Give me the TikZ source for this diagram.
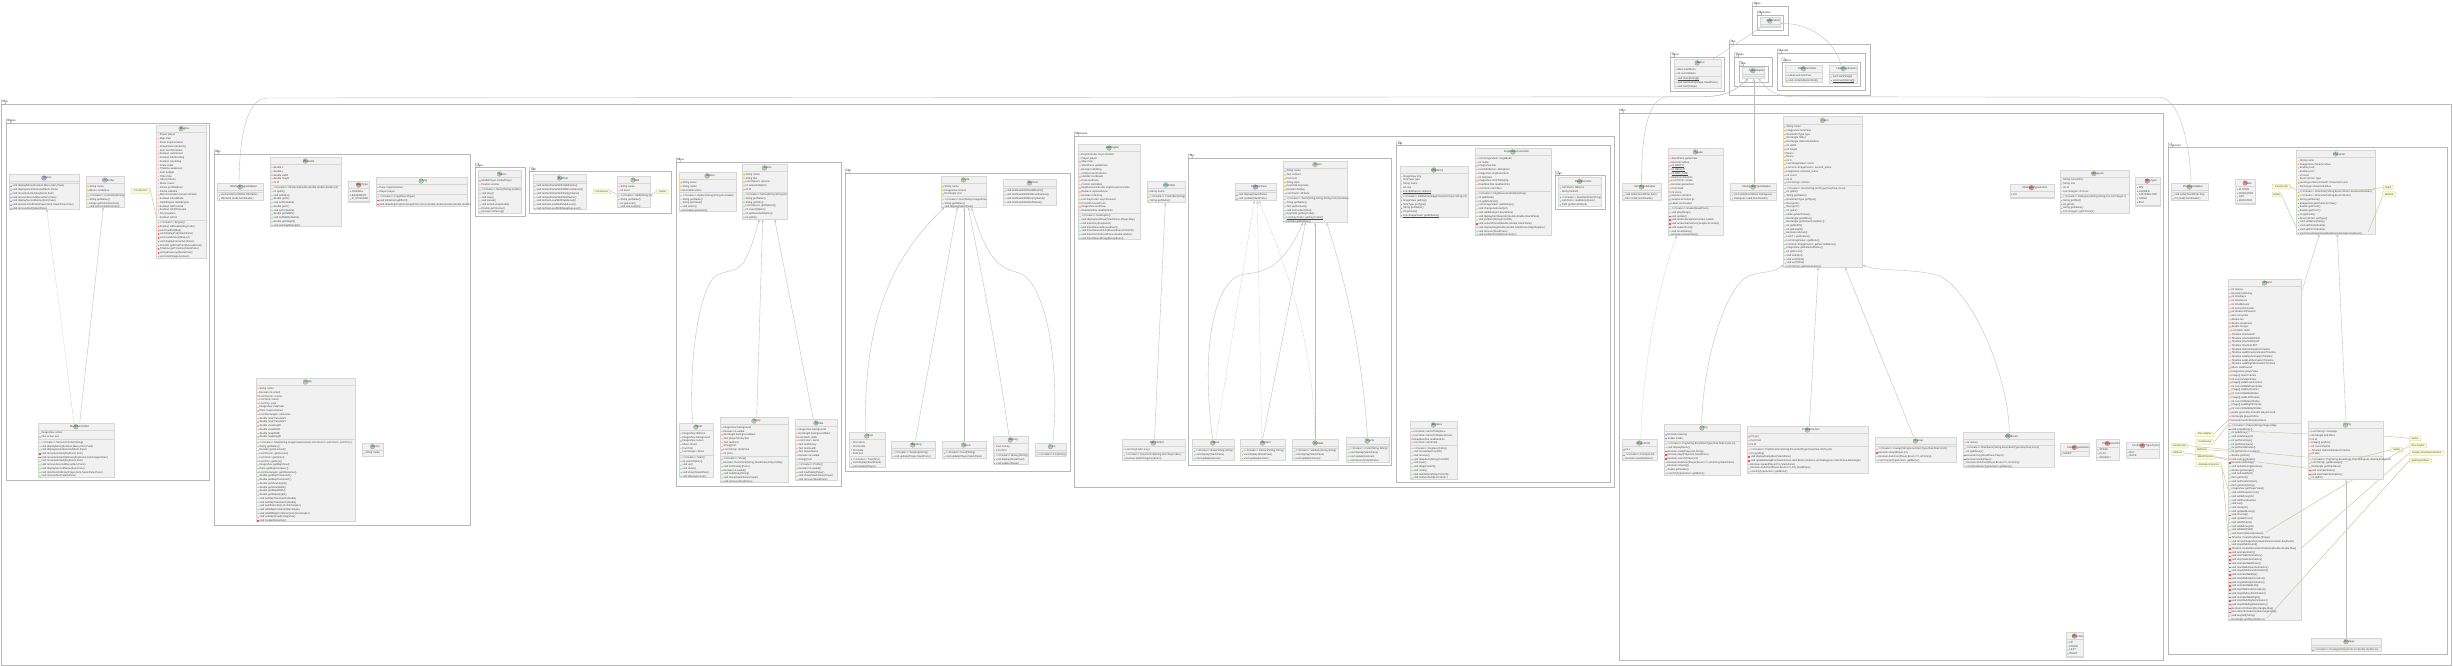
\documentclass[tikz,border=0pt]{standalone}
\usepackage{fontspec}
\usetikzlibrary{arrows.meta}
\newfontfamily\umlfont{Liberation Sans}
\pgfdeclarelayer{frames}\pgfdeclarelayer{edges}
\pgfsetlayers{frames,edges,main}
\definecolor{kindC}{HTML}{ADD1B2}\definecolor{kindA}{HTML}{A9DCDF}
\definecolor{kindI}{HTML}{B4A7E5}\definecolor{kindE}{HTML}{EB937F}
\definecolor{boxfill}{HTML}{F1F1F1}\definecolor{boxline}{HTML}{D6D6D6}
\definecolor{frameline}{HTML}{B8B8B8}\definecolor{edgeline}{HTML}{BEBEBE}
\definecolor{notefill}{HTML}{FBFBD0}\definecolor{noteline}{HTML}{C8C8A8}
\definecolor{rowtextc}{HTML}{484848}
\tikzset{
 classbox/.style={draw=boxline,fill=boxfill,line width=.55pt,inner sep=0pt,outer sep=0pt,rectangle},
 sepline/.style={draw=boxline,line width=.5pt},
 titletext/.style={font=\umlfont\fontsize{2.8}{3}\selectfont,text=rowtextc,inner sep=0pt,outer sep=0pt},
 rowtext/.style={font=\umlfont\fontsize{2.65}{3}\selectfont,text=rowtextc,inner sep=0pt,outer sep=0pt,anchor=west},
 kindicon/.style={circle,draw=gray,line width=.12pt,minimum size=4.8pt,inner sep=0pt,text=black!70,font=\umlfont\fontsize{2.6}{3}\selectfont},
 framebox/.style={draw=frameline,line width=.7pt,inner sep=0pt,outer sep=0pt,anchor=north west,fill=white},
 tabtext/.style={font=\umlfont\fontsize{2.6}{3}\selectfont,text=black!80,inner sep=0pt,outer sep=0pt,anchor=west},
 notetext/.style={font=\umlfont\fontsize{2.5}{3}\selectfont,text=rowtextc,inner sep=0pt,outer sep=0pt,anchor=north west,align=center},
 inh/.style={draw=edgeline,line width=.38pt,-{Triangle[open,length=2.6pt,width=2.4pt,fill=white]}},
 impl/.style={inh,dash pattern=on 1pt off 1pt},
 notelink/.style={draw=noteline,line width=.5pt},
}
\newdimen\umltw
\newcount\umlrowc
\newcommand\ul[1]{\setbox0\hbox{#1}\leavevmode\rlap{\rule[-.45pt]{\wd0}{.14pt}}\box0 }
\newcommand\pkg[6]{%
 \begin{pgfonlayer}{frames}%
 \node[framebox,minimum width={(#4-#2)*1pt},minimum height={(#5-#3)*1pt}] (#1) at (#2,#3) {};
 \settowidth\umltw{\umlfont\fontsize{2.6}{3}\selectfont #6}%
 \pgfmathsetmacro\tabr{#2+\umltw/1pt+2.6}%
 \draw[draw=black!55,line width=.28pt,fill=white] (#2,#3) -- (#2,#3-4.4) -- (\tabr,#3-4.4) -- (\tabr+1,#3-3) -- (\tabr+1.6,#3) -- cycle;
 \node[tabtext] (#1-t) at (#2+1.2,#3-2.2) {#6};
 \end{pgfonlayer}}
\newcommand\cls[9]{%
 \edef\clsid{#1}\edef\clsxa{#3}%
 \node[classbox,minimum width={(#5-#3)*1pt},minimum height={(#6-#4)*1pt},anchor=north west] (#1) at (#3,#4) {};
 \draw[sepline] (#3,#4+7.4) -- (#5,#4+7.4);
 \settowidth\umltw{\umlfont\fontsize{2.8}{3}\selectfont #7}%
 \pgfmathsetmacro\tcx{(#3+#5)/2+3}%
 \pgfmathsetmacro\icx{\tcx-\umltw/2/1pt-3.6}%
 \node[kindicon,fill=kind#2] (#1-i) at (\icx,#4+3.7) {#2};
 \node[titletext] (#1-n) at (\tcx,#4+3.7) {#7};
 \pgfmathsetmacro\rowyv{#4+10.3}\umlrowc=0
 #8%
 \ifnum\umlrowc=0 \pgfmathsetmacro\sepy{#4+8.9}\else\pgfmathsetmacro\sepy{\rowyv-1.13}\fi
 \draw[sepline] (#3,\sepy) -- (#5,\sepy);
 \pgfmathsetmacro\rowyv{\sepy+3}%
 #9}
\newcommand\vrow[2]{%
 \advance\umlrowc by 1
 \pgfmathsetmacro\icox{\clsxa+1.7}%
 #1
 \node[rowtext] (\clsid-\the\umlrowc) at (\clsxa+3.2,\rowyv) {#2};
 \pgfmathsetmacro\rowyv{\rowyv+3.73}}
\newcommand\iconP{\fill[red!28!white] (\icox-.7,\rowyv-.7) rectangle (\icox+.7,\rowyv+.7);}
\newcommand\iconR{\fill[red!70!white] (\icox-.7,\rowyv-.7) rectangle (\icox+.7,\rowyv+.7);}
\newcommand\iconG{\fill[green!45!black!55] (\icox,\rowyv) circle (.6);}
\newcommand\iconY{\fill[yellow!80!black] (\icox-.9,\rowyv) -- (\icox,\rowyv-.9) -- (\icox+.9,\rowyv) -- (\icox,\rowyv+.9) -- cycle;}
\newcommand\iconB{\fill[blue!45!gray!80] (\icox-.8,\rowyv+.7) -- (\icox+.8,\rowyv+.7) -- (\icox,\rowyv-.7) -- cycle;}
\newcommand\vP[1]{\vrow{\iconP}{#1}}
\newcommand\vR[1]{\vrow{\iconR}{#1}}
\newcommand\vG[1]{\vrow{\iconG}{#1}}
\newcommand\vY[1]{\vrow{\iconY}{#1}}
\newcommand\vB[1]{\vrow{\iconB}{#1}}
\newcommand\cre{<<Create>> }
\newcommand\nte[6]{%
 \fill[notefill,draw=noteline,line width=.3pt] (#2,#3) -- (#4-1.5,#3) -- (#4,#3+1.5) -- (#4,#5) -- (#2,#5) -- cycle;
 \node[notetext,minimum width={(#4-#2)*1pt},minimum height={(#5-#3)*1pt}] (#1) at (#2,#3) {#6};}
\begin{document}
\begin{tikzpicture}[x=1pt,y=-1pt]
\useasboundingbox (0,0) rectangle (2453,666);
\begin{pgfonlayer}{frames}\fill[white] (0,0) rectangle (2453,666);\end{pgfonlayer}
% ---------- packages
\pkg{pjavafx}{1752.7}{6.3}{1788.7}{35.3}{javafx}
\pkg{papp}{1757.3}{15.3}{1783.7}{30.7}{application}
\pkg{pgame}{1670.7}{57}{1724.7}{91.3}{Game}
\pkg{pcom}{1729.3}{44.3}{1870.3}{95.3}{com}
\pkg{pgoogle}{1734.7}{57}{1772.7}{86.7}{google}
\pkg{pgson}{1739.3}{66}{1768}{82}{gson}
\pkg{pexample}{1777.3}{53.3}{1865.3}{90.7}{example}
\pkg{pdemo}{1782}{62.3}{1860.7}{86.7}{demo1}
\pkg{pcore}{1.3}{104.3}{2451.7}{665}{Core}
\pkg{pengine}{6.5}{123.3}{209.7}{480}{Engine}
\pkg{pmap}{214.3}{154.3}{470.7}{525.7}{Map}
\pkg{pmusic}{475.3}{167.3}{525.3}{216.3}{Music}
\pkg{pskill}{529.7}{171.3}{671.3}{213.3}{Skill}
\pkg{pmenu}{676.3}{162.3}{841.7}{486.3}{Menu}
\pkg{puse}{845.3}{173.3}{1070.7}{471.7}{Use}
\pkg{pgui}{1074.3}{136.3}{1614.7}{487.7}{GuiEngine}
\pkg{ptext}{1188.3}{158.3}{1391.7}{465.7}{Text}
\pkg{pedit}{1396.7}{145.3}{1610.7}{482.3}{Edit}
\pkg{pread}{1555.3}{175.3}{1605.3}{209.3}{read}
\pkg{pitem}{1619.3}{113.3}{2163.7}{660.7}{Item}
\pkg{pchar}{2168.3}{147.3}{2447.3}{654.3}{Character}
% ---------- top classes
\cls{app}{C}{1760}{17.3}{1780.7}{27.3}{Application}{}{}
\cls{gamec}{C}{1674.3}{59.3}{1721.3}{88}{Game}{\vP{Main startMenu}\vP{int currentMenu}}{\vG{\ul{void main(String[])}}\vG{void startGame(Stage,StackPane)}\vG{void start(Stage)}}
\cls{tadapter}{C}{1742.3}{67}{1764.7}{78.7}{TypeAdapter}{}{}
\cls{helloc}{C}{1785.3}{65}{1822.7}{82.3}{HelloController}{\vP{Label welcomeText}}{\vY{void onHelloButtonClick()}}
\cls{helloa}{C}{1829.7}{65}{1857.7}{83.3}{HelloApplication}{}{\vG{void start(Stage)}\vG{\ul{void main(String[])}}}
% ---------- Engine
\cls{imenu}{I}{9.3}{174.3}{79.7}{209.3}{IMenu}{}{\vB{void displayMenu(boolean,Menu,Item,Pane)}\vB{void displayActionSelected(Item,Pane)}\vB{void moveSelected(KeyEvent,Item)}\vB{void removeSecondMenu(Item,Pane)}\vB{void displaySecondMenu(Item,Pane)}\vB{void doActionOnEnter(Player,Item,StackPane,Pane)}\vB{void removeAlert(StackPane)}}
\cls{ctrl}{A}{86.3}{176.3}{124.7}{207.7}{Controller}{\vY{String name}\vY{IMenu nextMenu}}{\vY{\cre Controller(String)}\vG{String getName()}\vG{Image getCurrentAction()}\vG{void setCurrentAction(int)}}
\cls{engine}{C}{156.7}{125}{206.7}{258.7}{Engine}{\vP{Player player}\vP{Map map}\vP{Pane mapContainer}\vP{ImageView interacting}\vP{Item itemToInteract}\vP{boolean canInteract}\vP{boolean isInteracting}\vP{boolean isLoading}\vP{Scale scale}\vP{Timeline weakness}\vP{Font budget}\vP{Tribe tribe}\vP{Library library}\vP{Music music}\vP{IOrdre printMedium}\vP{IOrdre isMedia}\vP{MenuController menuController}\vP{boolean isGodMode}\vP{HashEngine dashEngine}\vP{boolean isEPressed}\vP{boolean isCtrlPressed}\vP{Text pvpanne}\vP{boolean isFirst}}{\vG{\cre Engine()}\vR{boolean isMovable(KeyCode)}\vR{void loadPin(Map)}\vR{void displayPop(StackPane)}\vR{void loadActions(Map,int)}\vR{void displayInteractive(Pane)}\vG{Point2D getClickPoint(MouseEvent)}\vR{Timeline getTimeline(StackPane)}\vR{void gameLoop(StackPane)}\vG{void start(Stage,boolean)}}
\nte{ne1}{131.3}{188.3}{150}{193.7}{Constructor}
\cls{menuc}{C}{38.3}{423}{114.7}{477.3}{MenuController}{\vP{ImageView action}\vP{Text action text}}{\vG{\cre MenuController(String)}\vG{void displayMenu(boolean,Menu,Item,Pane)}\vG{void displayActionSelected(Item,Pane)}\vR{void moveSelected(KeyEvent,Item)}\vR{void moveSelectedUpDown(KeyEvent,List<ImageView>)}\vG{void moveSelected(KeyEvent,Item)}\vG{void removeSecondMenu(Item,Pane)}\vG{void displaySecondMenu(Item,Pane)}\vG{void doActionOnEnter(Player,Item,StackPane,Pane)}\vG{void removeAlert(StackPane)}}
% ---------- Map
\cls{oad}{C}{217.7}{183.3}{263.7}{200.3}{ObstacleTypeAdapter}{}{\vG{void write(JsonWriter,Obstacle)}\vG{Obstacle read(JsonReader)}}
\cls{obst}{C}{270.3}{157.3}{341.7}{226.3}{Obstacle}{\vP{double x}\vP{double y}\vP{double width}\vP{double height}\vP{int id}}{\vG{\cre Obstacle(double,double,double,double,int)}\vG{int getId()}\vG{void setId(int)}\vG{double getX()}\vG{void setX(double)}\vG{double getY()}\vG{void setY(double)}\vG{double getWidth()}\vG{void setWidth(double)}\vG{double getHeight()}\vG{void setHeight(double)}}
\cls{maptype}{E}{348.7}{181.3}{369.7}{202.7}{MapType}{\vG{NORMAL}\vG{BASEMENT}\vG{R\_STORAGE}}{}
\cls{fog}{C}{376.3}{177.3}{467.3}{206.3}{Fog}{\vP{Pane mapContainer}\vP{Player player}}{\vG{\cre Fog(Pane,Player)}\vR{void initializeFogEffect()}\vR{void drawFogGraphics(GraphicsContext,double,double,double,double,double)}}
\cls{mapc}{C}{256.3}{378.3}{355.7}{521.7}{Map}{\vP{String name}\vP{boolean isLocked}\vP{List<Room> rooms}\vP{List<Item> items}\vP{List<Pnj> pnjs}\vP{ImageView mapView}\vP{Pane mapContainer}\vP{List<Rectangle> obstacles}\vP{double mapTranslateX}\vP{double mapTranslateY}\vP{double viewHeight}\vP{double viewWidth}\vP{double mapWidth}\vP{double mapHeight}}{\vG{\cre Map(String,ImageView,boolean,List<Room>,List<Item>,List<Pnj>)}\vG{String getName()}\vG{boolean getIsLocked()}\vG{List<Room> getRooms()}\vG{List<Item> getItems()}\vG{List<Pnj> getPnjs()}\vG{ImageView getMapView()}\vG{Pane getMapContainer()}\vG{List<Rectangle> getObstacles()}\vG{double getMapTranslateX()}\vG{double getMapTranslateY()}\vG{double getViewHeight()}\vG{double getViewWidth()}\vG{double getMapWidth()}\vG{double getMapHeight()}\vG{void setMapTranslateX(double)}\vG{void setMapTranslateY(double)}\vG{void setObstacles(List<Rectangle>)}\vG{void addMapContainer(Rectangle)}\vG{void addAllMapContainer(List<Rectangle>)}\vG{void setMapCloud(ImageView)}\vR{void createObstacles()}}
\cls{room}{C}{362.3}{443}{383.7}{456.7}{Room}{\vP{String name}}{}
% ---------- Music, Skill
\cls{music}{C}{478.3}{170.3}{521.7}{213.7}{Music}{\vB{MediaPlayer mediaPlayer}\vP{Double volume}}{\vG{\cre Music(String,double)}\vG{void play()}\vG{void stop()}\vG{void pause()}\vG{void setVolume(double)}\vG{Double getVolume()}\vG{boolean isPlaying()}}
\cls{skilltest}{C}{533.3}{174.3}{586.7}{209.7}{SkillTest}{}{\vG{void testGetNameWithValidName()}\vG{void testGetNameWithDifferentNames()}\vG{void testGetNameWithEmptyName()}\vG{void testGetNameWithNullName()}\vG{void testGetLevelWithValidLevel()}\vG{void testSetLevelWithValidLevel()}\vG{void testSetLevelWithNegativeLevel()}}
\cls{skill}{C}{617.3}{176.3}{650}{207.3}{Skill}{\vP{String name}\vP{int level}}{\vG{\cre Skill(String,int)}\vG{String getName()}\vG{int getLevel()}\vG{void setLevel(int)}}
\nte{ns1}{593.3}{189}{610.7}{193.7}{Constructor}
\nte{ns2}{656.7}{189}{669}{193.7}{Getter}
% ---------- Menu
\cls{option}{C}{679.3}{172.3}{736}{211.3}{Option}{\vY{String value}\vY{String name}\vY{Runnable action}}{\vG{\cre Option(String,String,Runnable)}\vG{String getName()}\vG{String getValue()}\vG{void select()}\vG{Runnable getAction()}}
\cls{menu}{C}{742.3}{164.3}{787.7}{219.3}{Menu}{\vY{String name}\vY{String title}\vY{List<Option> options}\vY{int selectedOption}\vY{int id}}{\vG{\cre Menu(String,String,int)}\vG{String getName()}\vG{String getTitle()}\vG{List<Option> getOptions()}\vG{int select(Option)}\vG{int getSelectedOption()}\vG{int getId()}}
\cls{start}{C}{679.3}{423.3}{713.5}{477.3}{Start}{\vP{ImageView titleIcon}\vP{ImageView background}\vP{ImageView cursor}\vP{Music music}\vP{Font font}\vP{List<Image> faces}}{\vG{\cre Start()}\vG{int selectOption()}\vG{void up()}\vG{void down()}\vG{void show(StackPane)}\vG{void display(Cursor)}}
\cls{shop}{C}{720.3}{417.3}{788.7}{482.7}{Shop}{\vP{ImageView background}\vP{boolean isLoaded}\vP{Rectangle backgroundRect}\vP{Text playerMoneyText}\vP{Text textFind}\vP{String[] list}\vP{List<String> itemPrice}\vP{int price}}{\vG{\cre Shop()}\vG{boolean checkClick(String,StackPane,Player,Map)}\vG{void setOverlay(Pane)}\vG{boolean isLoaded()}\vG{void setMoney(String)}\vG{void show(StackPane,Player)}\vG{void remove(StackPane)}}
\cls{profile}{C}{795.3}{419.3}{837.7}{480.7}{Profile}{\vP{ImageView background}\vP{Rectangle backgroundRect}\vP{List<Skill> skills}\vP{List<Color> items}\vP{Text textMoney}\vP{Text textHealth}\vP{Text playerName}\vP{boolean isLoaded}\vP{String[] font}}{\vG{\cre Profile()}\vG{boolean isLoaded()}\vG{void loadStats(Player)}\vG{void show(StackPane,Player)}\vG{void remove(StackPane)}}
% ---------- Use
\cls{use}{C}{941.3}{176.3}{986.7}{207.7}{Use}{\vY{String name}\vY{ImageView texture}\vY{Rectangle icon}}{\vG{\cre Use(String,ImageView)}\vG{String getName()}\vG{void display(StackPane)}}
\cls{usetest}{C}{1003.3}{179.3}{1056.7}{205}{UseTest}{}{\vG{void testNameWithValidName()}\vG{void testNameWithDifferentNames()}\vG{void testNameWithEmptyName()}\vG{void testNameWithNullName()}}
\cls{tree}{C}{849.6}{432.3}{885}{467.7}{Tree}{\vP{Text name}\vP{Text textGi}\vP{Text kata}\vP{Font font}}{\vG{\cre Tree(Text)}\vG{void display(StackPane)}\vG{void update(Player)}}
\cls{teashop}{C}{891.2}{441.3}{935.4}{458.7}{Teashop}{}{\vG{\cre Teashop(String)}\vG{void update(Player,StackPane)}}
\cls{food}{C}{942.5}{441.3}{985.8}{458.7}{Food}{}{\vG{\cre Food(String)}\vG{void update(Player,StackPane)}}
\cls{money}{C}{993}{436.3}{1028.7}{464.3}{Money}{\vP{Text money}\vP{Font font}}{\vG{\cre Money(String)}\vG{void display(StackPane)}\vG{void update(Player)}}
\cls{fix}{C}{1035.4}{443}{1066.6}{456.7}{Fix}{}{\vG{\cre Fix(String)}}
% ---------- GuiEngine
\cls{guie}{C}{1078.3}{144.3}{1140.7}{239.7}{GuiEngine}{\vP{KeyController keyController}\vP{Player player}\vP{Map map}\vP{StackPane gamePane}\vP{boolean isEditing}\vP{Collision textCollision}\vP{Handler textBoard}\vP{Pane textPane}\vP{Control textCable}\vP{ImgMouseController imgMouseController}\vP{Replace replaceAction}\vP{boolean isTesting}\vP{List<KeyCode> keysPressed}\vP{Point2D mousePoint}\vP{ImageView textDraw}\vP{ReadItemFile readItemFile}}{\vG{\cre GuiEngine()}\vG{void displayGenBase(StackPane,Player,Map)}\vG{void listenKey(KeyEvent)}\vG{void listenMouse(MouseEvent)}\vG{void listenMouseClick(MouseEvent,Point2D)}\vG{void listenScroll(ScrollPane,double,double)}\vG{void listenMouseDrag(MouseEvent)}}
\cls{ctrlb}{A}{1147}{181.3}{1185.7}{202.7}{Controller}{\vY{String name}}{\vY{\cre Controller(String)}\vG{String getName()}}
\cls{keyc}{C}{1122.4}{439.3}{1185.4}{460.7}{KeyControl}{\vP{List<KeyCode> keys}}{\vG{\cre KeyControl(String,List<KeyCode>)}\vG{boolean isMatching(KeyEvent)}}
% ---------- Text
\cls{tif}{I}{1235.3}{183.3}{1276.7}{200.7}{TextInterface}{}{\vB{void display(StackPane)}\vB{void update(StackPane)}}
\cls{texts}{C}{1283.3}{161}{1347.7}{222.7}{Texts}{\vY{String name}\vY{Text content}\vY{Font font}\vY{String style}\vY{KeyCode keyCode}\vY{boolean display}\vP{List<Texts> allTexts}}{\vG{\cre Texts(String,String,String,Color,boolean)}\vG{String getName()}\vG{Text getContent()}\vG{void setContent(Text)}\vG{KeyCode getKeyCode()}\vG{\ul{List<KeyCode> getKeyCodes()}}\vG{boolean getDisplay()}}
\cls{basec}{C}{1192.5}{439.3}{1234}{460.7}{Base}{}{\vG{\cre Base(String,String)}\vG{void display(StackPane)}\vG{void update(boolean)}}
\cls{interact}{C}{1240.7}{439.3}{1285.4}{460.7}{Interact}{}{\vG{\cre Interact(String,String)}\vG{void display(StackPane)}\vG{void update(boolean)}}
\cls{validate}{C}{1292.5}{439.3}{1338.5}{460.7}{Validate}{}{\vG{\cre Validate(String,String)}\vG{void display(StackPane)}\vG{void update(boolean)}}
\cls{cycle}{C}{1346.5}{437.3}{1389}{462.7}{Cycle}{}{\vG{\cre Cycle(String,String)}\vG{void display(StackPane)}\vG{void update(boolean)}\vG{void remove(StackPane)}}
% ---------- Edit
\cls{edititems}{C}{1400}{166.3}{1468.7}{217.3}{EditItems}{\vP{ImageView img}\vP{ItemType type}\vP{String name}\vP{int size}\vP{\ul{List<EditItems> allItems}}}{\vG{\cre EditItems(ImageView,ItemType,String,int)}\vG{ImageView getImg()}\vG{ItemType getType()}\vG{String getName()}\vG{int getSize()}\vG{\ul{List<ImageView> getAllItems()}}}
\cls{imgm}{C}{1475.3}{148.3}{1551.7}{235.7}{ImgMouseController}{\vP{List<ImageView> imgsMode}\vP{int mode}\vP{ImageView bar}\vP{List<EditItems> allImgItem}\vP{ImageView imgSelectItem}\vP{int selected}\vP{ImageView itemToDisplay}\vP{ReadItemFile readItemFile}\vP{List<Item> itemText}}{\vG{\cre ImgMouseController(String)}\vG{int getMode()}\vG{int getModeSet()}\vG{List<ImageView> getAllImgs()}\vG{void changeSelected(int)}\vG{void addMode(int,StackPane)}\vG{void displayItemSelector(double,double,StackPane)}\vG{void putItem(String,Point2D)}\vR{void actionOnVoid(double,double,StackPane)}\vG{void displayImg(double,double,StackPane,Map,Replace)}\vG{void remove(StackPane)}\vG{void putItemPoint2D(List<Item>)}}
\cls{readf}{C}{1558.7}{177.7}{1601.7}{206.3}{ReadItemFile}{\vP{List<Item> allItems}\vP{String filePath}}{\vG{\cre ReadItemFile(String)}\vG{List<Item> readItems(Gson)}\vG{Path getItemsFile(int)}}
\cls{replace}{C}{1410.3}{421.3}{1457.7}{479.7}{Replace}{\vP{List<Item> itemsToReplace}\vP{List<Item> itemsToReplaceInsert}\vP{ReadItemFile readItemFile}\vP{List<Item> itemField}}{\vG{\cre Replace(String)}\vG{void moveMap(Point2D)}\vG{void remove()}\vG{void drawItem(String,Point2D)}\vG{void save()}\vG{void drag(Point2D)}\vG{void undo()}\vG{void deleteItem(Map,Point2D)}\vG{void setItemField(List<Item>)}}
% ---------- Item
\cls{itad}{C}{1622.3}{183.3}{1661.7}{200.7}{ItemTypeAdapter}{}{\vG{void write(JsonWriter,Item)}\vG{Item read(JsonReader)}}
\cls{snake}{C}{1668.3}{148.3}{1723.7}{235.7}{Snake}{\vP{StackPane gameView}\vP{boolean isAlive}\vP{\ul{int WIDTH}}\vP{\ul{int HEIGHT}}\vP{\ul{int RAD\_SIZE}}\vP{Direction direction}\vP{List<Point> snake}\vP{boolean gameOver}\vP{Point food}\vP{int score}\vP{Random random}\vB{GraphicsContext gc}\vB{Label scoreLabel}}{\vG{\cre Snake(StackPane)}\vG{void play(Stage)}\vR{void update()}\vR{void render(GraphicsContext,Label)}\vR{void renderGameOver(GraphicsContext)}\vR{void spawnFood()}\vG{void resetGame()}\vG{boolean isGameOver()}}
\cls{dad}{C}{1730.7}{183.3}{1776.7}{200.7}{DialoguesTypeAdapter}{}{\vG{void write(JsonWriter,Dialogues)}\vG{Dialogues read(JsonReader)}}
\cls{item}{C}{1783.3}{116.7}{1862.7}{267.3}{Item}{\vY{String name}\vY{ImageView itemView}\vY{EnumItemType type}\vY{Rectangle hitbox}\vY{Rectangle interactionHitbox}\vY{int width}\vY{int height}\vY{float x}\vY{float y}\vY{int h}\vY{List<ImageView> menu}\vY{List<List<ImageView>> second\_menu}\vY{ImageView selected\_menu}\vY{int count}\vY{int id}\vY{List<String> actions}}{\vG{\cre Item(String,ItemType,float,float,int,int)}\vG{int getId()}\vG{String getName()}\vG{EnumItemType getType()}\vG{float getX()}\vG{float getY()}\vG{int getH()}\vG{Node getItemView()}\vG{Rectangle getHitbox()}\vG{Rectangle getInteractionHitbox()}\vG{int getWidth()}\vG{int getHeight()}\vG{boolean isActive()}\vG{List<T> getActions()}\vG{List<ImageView> getMenu()}\vG{List<List<ImageView>> getSecondMenu()}\vG{ImageView getSelectedMenu()}\vG{int getCount()}\vG{void setId(int)}\vG{void setX(float)}\vG{void setY(float)}\vG{List<String> getActivActions()}}
\cls{chest}{E}{2010}{184}{2054}{198}{DialogueTypeAction}{\vG{OK}}{}
\cls{dialog}{C}{2060}{170}{2129}{213.7}{Dialogues}{\vP{String currentPnj}\vP{String text}\vP{int id}\vP{List<Integer> choices}}{\vG{\cre Dialogues(String,String,int,List<Integer>)}\vG{String getText()}\vG{int getId()}\vG{String getName()}\vG{List<Integer> getChoices()}}
\cls{itemtype}{E}{2135.7}{177.3}{2160}{206.7}{ItemType}{\vG{PIN}\vG{LADDER}\vG{DISTRIBUTOR}\vG{TABLE}\vG{PNJ}}{}
\cls{snkpt}{C}{1622.3}{439.3}{1657.7}{460.7}{SnakePoint}{\vB{int x}}{\vB{\cre Point(int,int)}\vG{boolean equals(Object)}}
\cls{pnji}{C}{1664.3}{424.3}{1740.7}{475.3}{Pnj}{\vB{boolean isGiving}\vB{Snake snake}}{\vG{\cre Pnj(String,EnumItemType,float,float,int,int,int)}\vG{void displayMenu()}\vR{boolean soak(Player,int,String)}\vR{boolean play(Player,int,StackPane)}\vR{boolean search(Player,int)}\vG{boolean doAction(Player,Enum<?>,int,String,StackPane)}\vG{boolean isGiving()}\vG{Snake getSnake()}\vG{List<PnjTypeAction> getMenu()}}
\cls{pinter}{C}{1747.3}{426.3}{1868.7}{473.3}{PnjInteraction}{\vB{Pnj pnj}\vP{Font font}\vP{int id}}{\vG{\cre PnjInteraction(String,EnumItemType,float,float,int,Pnj,int)}\vG{Pnj getPnj()}\vR{void displayDialogBox(StackPane)}\vR{void updateDialogBox(StackPane,Label,Button,Button,List<Dialogues>,StackPane,Rectangle)}\vG{boolean speak(Player,Pnj,StackPane)}\vG{boolean doAction(Player,Enum<?>,Pnj,StackPane)}\vG{List<PnjTypeAction> getMenu()}}
\cls{canap}{C}{1875.3}{437.3}{1956.7}{462.7}{Canap}{}{\vG{\cre Canap(String,EnumItemType,float,float,int,int)}\vR{boolean sleep(Player,int)}\vG{boolean doAction(Player,Enum<?>,int,String)}\vG{List<CanapTypeAction> getMenu()}}
\cls{distr}{C}{1963.3}{432.3}{2054}{467.3}{Distributor}{\vP{int money}}{\vG{\cre Distributor(String,EnumItemType,float,float,int,int)}\vG{int getMoney()}\vR{boolean buy(StackPane,Player)}\vR{boolean back(Player)}\vG{boolean doAction(Player,Enum<?>,int,String)}\vG{List<DistributorTypeAction> getMenu()}}
\cls{canapt}{E}{2060}{443.7}{2089.7}{456}{CanapTypeAction}{\vG{SLEEP}}{}
\cls{pnjt}{E}{2096.3}{439.7}{2119.7}{460.3}{PnjTypeAction}{\vG{SPEAK}\vG{PLAY}\vG{SEARCH}}{}
\cls{distrt}{E}{2126.3}{442}{2159.7}{458.3}{DistributorTypeAction}{\vG{BUY}\vG{BACK}}{}
\cls{direct}{E}{2066.3}{632.3}{2083.7}{657.7}{Direction}{\vG{UP}\vG{DOWN}\vG{LEFT}\vG{RIGHT}}{}
% ---------- Character
\cls{pnjad}{C}{2171.3}{183.3}{2208.7}{200.7}{PnjTypeAdapter}{}{\vG{void write(JsonWriter,Pnj)}\vG{Pnj read(JsonReader)}}
\cls{role}{E}{2235.7}{179.3}{2255.7}{204.3}{Role}{\vG{PLAYER}\vG{PREDATOR}\vG{NPC}\vG{MONSTER}}{}
\cls{charc}{A}{2296.7}{150.3}{2375.7}{234.3}{Character}{\vP{String name}\vY{ImageView characterView}\vP{double posX}\vP{double posY}\vP{int level}\vP{Enum<Role> type}\vY{javafx.geometry.Point2D characterCoord}\vP{Rectangle characterHitbox}}{\vY{\cre Character(String,Enum<Role>,boolean,boolean)}\vY{\cre Character(String,Enum<Role>)}\vG{String getName()}\vG{ImageView getCharacterView()}\vG{double getPosX()}\vG{double getPosY()}\vG{int getPosK()}\vG{Enum<Role> getType()}\vG{void setName(String)}\vG{void setPosX(double)}\vG{void setPosY(double)}\vG{void moveImageView(StackPane,boolean,KeyEvent)}}
\cls{player}{C}{2228.3}{279.3}{2301.7}{620.3}{Player}{\vP{int money}\vP{boolean isMoving}\vP{int timeDays}\vP{int timeHours}\vP{int timeMinutes}\vP{int secondsCounter}\vP{int durationOfSearch}\vP{Item carryItem}\vP{double fun}\vP{double weakness}\vP{double hunger}\vP{List<Skill> skills}\vP{Timeline timelineUP}\vP{Timeline timelineDOWN}\vP{Timeline timelineRIGHT}\vP{Timeline timelineLEFT}\vP{Timeline staticAnimationTimeline}\vP{Timeline walkDownAnimationTimeline}\vP{Timeline walkUpAnimationTimeline}\vP{Timeline walkLeftAnimationTimeline}\vP{Timeline walkRightAnimationTimeline}\vP{Music walkSound}\vY{ImageView playerView}\vY{Image[] staticFrames}\vP{int currentStaticIndex}\vY{Image[] walkDownFrames}\vP{int currentWalkDownIndex}\vP{Image[] walkUpFrames}\vP{int currentWalkUpIndex}\vP{Image[] walkLeftFrames}\vP{int currentWalkLeftIndex}\vP{Image[] walkRightFrames}\vP{int currentWalkRightIndex}\vP{javafx.geometry.Point2D playerCoord}\vP{Rectangle playerHitbox}\vP{boolean hasToCheckCollision}}{\vG{\cre Player(String,Image,Map)}\vR{void jumpMoney()}\vG{int getMoney()}\vG{void setMoney(int)}\vG{int getTimeDays()}\vG{int getTimeHours()}\vG{int getTimeMinutes()}\vG{int getTimeSeconds(int)}\vG{double getFun()}\vG{void setFun(double)}\vR{boolean isMoving()}\vG{void setIsMoving(boolean)}\vG{double getHunger()}\vG{void setHealth(int)}\vG{Item getItem()}\vG{void setDuration(Item)}\vG{Item getItem(String)}\vG{ImageView getPlayerView()}\vG{void addTime(int,int,int)}\vG{void addMoney(int)}\vG{void addFun(double)}\vG{void eat()}\vG{void sleep(int)}\vG{void updateMoney()}\vR{void timerUp()}\vG{void updateTime()}\vG{void addTime(int)}\vG{void addMoney(int)}\vG{void addSkill(Skill)}\vG{void startCollision(boolean)}\vR{Timeline createKeyframe(Image)}\vG{void move(ImageView,StackPane,boolean,KeyEvent)}\vG{void stopWalkSound()}\vR{Timeline createMovementTimeline(double,double,Map)}\vR{void animateStatic()}\vR{void startStaticAnimation()}\vR{void stopStaticAnimation()}\vR{void animateWalkDown()}\vR{void startWalkDownAnimation()}\vR{void stopWalkDownAnimation()}\vR{void animateWalkUp()}\vR{void startWalkUpAnimation()}\vR{void stopWalkUpAnimation()}\vR{void animateWalkLeft()}\vR{void startWalkLeftAnimation()}\vR{void stopWalkLeftAnimation()}\vR{void animateWalkRight()}\vR{void startWalkRightAnimation()}\vR{void stopWalkRightAnimation()}\vR{boolean isCollision(Rectangle,Map)}\vR{Item detectInteraction(Rectangle,Map)}\vG{void buySkill(String)}\vG{Rectangle getPlayerHitbox()}}
\cls{postage}{C}{2311.3}{638}{2381.7}{651.3}{Postage}{}{\vB{\cre Postage(String,Role,int,double,double,int)}}
% notes on Character and Player
\nte{nc1}{2272.3}{184.3}{2290.7}{189}{Constructor}
\nte{nc2}{2272.3}{192}{2281}{196.7}{Setter}
\nte{nc3}{2383.3}{185}{2393.3}{189.7}{Order}
\nte{nc4}{2382.3}{191.7}{2396}{197}{Method}
\nte{np1}{2195.7}{432}{2213.3}{436.7}{Dev-engine}
\nte{np2}{2195.7}{439.7}{2214.3}{444.3}{Constructor}
\nte{np3}{2171.3}{443.3}{2187.7}{448}{Constructor}
\nte{np4}{2171.3}{450.7}{2184}{455.3}{Method}
\nte{np5}{2195.7}{447.3}{2206.7}{452}{Method}
\nte{np6}{2195.7}{454.7}{2215}{459.3}{Move Interact}
\nte{np7}{2195.7}{462}{2221.7}{466.7}{Animate character}
\nte{nq1}{2409.3}{436}{2420.7}{440.7}{Getter}
\nte{nq2}{2409.3}{443.3}{2426.7}{448}{Dev-engine}
\nte{nq3}{2390.7}{447.3}{2402.7}{452}{Setter}
\nte{nq4}{2409.3}{450.7}{2444}{455.3}{Create movement timeline}
\nte{nq5}{2409.3}{458.3}{2431.7}{463}{getPlayerHitbox}
% links over Player, under the second Pnj
\draw[notelink] (np1.east) -- ([yshift=-141pt]player.north west);
\draw[notelink] (np2.east) -- ([yshift=-145pt]player.north west);
\draw[notelink] (np5.east) -- ([yshift=-172pt]player.north west);
\draw[notelink] (np6.east) -- ([yshift=-181pt]player.north west);
\draw[notelink] (np7.south east) -- ([yshift=-211pt]player.north west);
\draw[notelink] (np7.south east) -- ([yshift=-257.4pt]player.north west);
\draw[notelink] (nq2.west) -- ([xshift=37.4pt,yshift=-253pt]player.north west);
\draw[notelink] (nq4.west) -- ([yshift=-268.4pt]player.north east);
\draw[notelink] (nq5.west) -- ([xshift=38.4pt,yshift=2pt]player.south west);
\cls{pnjc}{C}{2308.3}{421.3}{2383.7}{479.7}{Pnj}{\vP{List<String> message}\vP{Rectangle pnjHitbox}\vP{int id}\vP{Image[] pnjAnim}\vP{int currentSprite}\vP{Timeline staticAnimationTimeline}\vP{int skin}}{\vG{\cre Pnj(String,EnumRole,Map,Dialogues,double,double,int)}\vG{List<String> getMessage()}\vG{Rectangle getPnjHitbox()}\vR{void animateStatic()}\vR{void startStaticAnimation()}\vG{int getId()}}
\draw[notelink] (np3.east) -- ([yshift=-36pt]pnjc.north west);
\draw[notelink] (np4.east) -- ([yshift=-47pt]pnjc.north west);
\draw[notelink] ([xshift=20pt,yshift=-152pt]player.north west) -- ([yshift=-12.7pt]pnjc.north west);
\draw[notelink] (nq1.west) -- ([yshift=-14.7pt]pnjc.north east);
\draw[notelink] (nq3.west) -- ([xshift=36.7pt,yshift=-40.4pt]pnjc.north west);
\draw[notelink] (nc1.east) -- ([yshift=-39.7pt]charc.north west);
\draw[notelink] (nc2.east) -- ([yshift=-77.7pt]charc.north west);
\draw[notelink] (nc3.west) -- ([xshift=60pt,yshift=-41pt]charc.north west);
\draw[notelink] (nc4.south west) -- ([xshift=-7.4pt,yshift=-81.4pt]charc.north east);
\draw[notelink] (ne1.north east) -- ([yshift=-94pt]engine.north west);
\draw[notelink] (ns1.east) -- ([yshift=-18pt]skill.north west);
\draw[notelink] (ns2.west) -- ([yshift=-18.7pt]skill.north east);
% ---------- edges
\begin{pgfonlayer}{edges}
\draw[inh] ([xshift=38.4pt]gamec.north west) -- ([xshift=1pt]app.south west);
\draw[inh] ([xshift=11.3pt]helloa.north west) .. controls (1836,45) and (1815,24) .. ([yshift=-6pt]app.north east);
\draw[inh] ([xshift=23pt]dad.north west) -- ([xshift=11.4pt]tadapter.south west);
\draw[inh] ([xshift=21.3pt]oad.north west) .. controls (239.5,135) and (247,99) .. (266.7,98) -- (1700,96.8) .. controls (1728,96.5) and (1735,90) .. ([xshift=6pt]tadapter.south west);
\draw[inh] ([xshift=19.4pt]itad.north west) .. controls (1641,135) and (1648,98) .. (1667,96.8) -- (1700,96.8) .. controls (1728,96.5) and (1735,90) .. ([xshift=6pt]tadapter.south west);
\draw[inh] ([xshift=19.7pt]pnjad.north west) .. controls (2190,140) and (2178,98) .. (2160,97.3) -- (1795,96.8) .. controls (1776,96.5) and (1770,92) .. ([xshift=16pt]tadapter.south west);
\draw[impl] ([xshift=35.7pt]menuc.north west) -- ([xshift=37.4pt]imenu.south west);
\draw[inh] ([xshift=41.4pt]menuc.north west) -- ([xshift=17pt]ctrl.south west);
\draw[inh] ([xshift=13.4pt]start.north west) .. controls (688,360) and (700,285) .. (716.7,275) .. controls (728,270) and (737,272) .. (744,262) .. controls (750,252) and (755,235) .. ([xshift=17pt]menu.south west);
\draw[inh] ([xshift=36.4pt]shop.north west) -- ([xshift=20.4pt]menu.south west);
\draw[inh] ([xshift=18pt]profile.north west) -- ([xshift=32.4pt]menu.south west);
\draw[inh] ([xshift=15.7pt]tree.north west) .. controls (864,330) and (885,265) .. ([xshift=2.7pt]use.south west);
\draw[inh] ([xshift=24.1pt]teashop.north west) -- ([xshift=16pt]use.south west);
\draw[inh] ([xshift=21.8pt]food.north west) -- ([xshift=23pt]use.south west);
\draw[inh] ([xshift=16pt]money.north west) .. controls (1000,370) and (985,290) .. ([xshift=27pt]use.south west);
\draw[inh] ([xshift=17.4pt]fix.north west) .. controls (1060,370) and (1048,290) .. (1022,274) .. controls (1005,268) and (990,270) .. ([xshift=30.4pt]use.south west);
\draw[inh] ([xshift=32.1pt]keyc.north west) -- ([xshift=18.3pt]ctrlb.south west);
\draw[inh] ([xshift=20.2pt]basec.north west) .. controls (1200,345) and (1215,277) .. (1245,274) .. controls (1270,272) and (1285,262) .. ([xshift=19.7pt]texts.south west);
\draw[impl] ([xshift=23.2pt]basec.north west) -- ([xshift=19pt]tif.south west);
\draw[inh] ([xshift=21.9pt]interact.north west) -- ([xshift=22.3pt]texts.south west);
\draw[impl] ([xshift=21pt]interact.north west) -- ([xshift=22pt]tif.south west);
\draw[inh] ([xshift=22.5pt]validate.north west) -- ([xshift=31.7pt]texts.south west);
\draw[impl] ([xshift=22.5pt]validate.north west) .. controls (1313,340) and (1288,270) .. ([xshift=23.5pt]tif.south west);
\draw[inh] ([xshift=21pt]cycle.north west) .. controls (1362,350) and (1345,280) .. ([xshift=43.4pt]texts.south west);
\draw[impl] ([xshift=18.4pt]snkpt.north west) .. controls (1643,360) and (1660,280) .. ([xshift=8.4pt]snake.south west);
\draw[inh] ([xshift=37.4pt]pnji.north west) .. controls (1703,360) and (1725,292) .. (1745,278) .. controls (1757,270) and (1770,275) .. ([yshift=2.3pt]item.south west);
\draw[inh] ([xshift=62pt]pinter.north west) -- ([xshift=35pt]item.south west);
\draw[inh] ([xshift=38.4pt]canap.north west) -- ([xshift=61.7pt]item.south west);
\draw[inh] ([xshift=46pt]distr.north west) .. controls (2009,380) and (1975,295) .. (1940,276) .. controls (1915,268) and (1880,272) .. ([yshift=2.3pt]item.south east);
\draw[inh] ([yshift=-12.4pt]player.north east) -- ([xshift=22.6pt]charc.south west);
\draw[inh] ([xshift=37.7pt]pnjc.north west) -- ([xshift=40.6pt]charc.south west);
\draw[inh] ([xshift=34.7pt]postage.north west) -- ([xshift=37.7pt]pnjc.south west);
\end{pgfonlayer}
\end{tikzpicture}
\end{document}
